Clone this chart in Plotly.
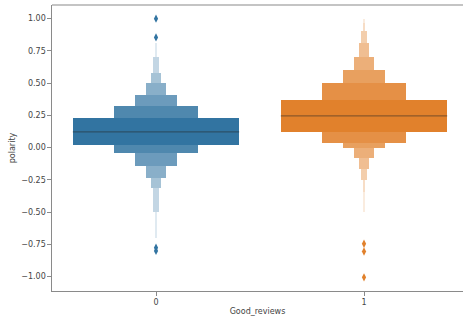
import plotly.graph_objects as go

# ---- data ----
categories = [0, 1]
tick_labels = ["0", "1"]
base_colors = ["#3274a1", "#e1812c"]

# letter-value boxes, innermost first: (lower, upper)
blue_lower = [0.021, -0.043, -0.145, -0.232, -0.315, -0.50, -0.70]
blue_upper = [0.228, 0.323, 0.411, 0.499, 0.577, 0.705, 0.81]
orange_lower = [0.124, 0.039, -0.005, -0.082, -0.168, -0.25, -0.34, -0.50]
orange_upper = [0.372, 0.499, 0.602, 0.705, 0.809, 0.907, 0.97, 1.00]
medians = [0.122, 0.246]
blue_outliers = [1.0, 0.855, -0.775, -0.80]
orange_outliers = [-0.745, -0.805, -1.005]

lowers = [blue_lower, orange_lower]
uppers = [blue_upper, orange_upper]
outliers = [blue_outliers, orange_outliers]

BOX_WIDTH = 0.8


def hex_to_rgb(h):
    h = h.lstrip("#")
    return tuple(int(h[i:i + 2], 16) for i in (0, 2, 4))


def blend(h, t):
    r, g, b = hex_to_rgb(h)
    return "rgb(%d,%d,%d)" % (
        round(r + (255 - r) * t),
        round(g + (255 - g) * t),
        round(b + (255 - b) * t),
    )


fig = go.Figure()

for ci, cat in enumerate(categories):
    lo, up = lowers[ci], uppers[ci]
    k = len(lo)
    # draw outermost (narrow, light) first, innermost on top
    for i in reversed(range(k)):
        t = 0.85 * i / (k - 1)
        fig.add_trace(go.Bar(
            x=[cat], y=[up[i] - lo[i]], base=[lo[i]],
            width=[BOX_WIDTH / (2 ** i)],
            marker=dict(color=blend(base_colors[ci], t), line=dict(width=0)),
            showlegend=False, hoverinfo="skip",
        ))
    # median line
    fig.add_trace(go.Scatter(
        x=[cat - BOX_WIDTH / 2, cat + BOX_WIDTH / 2], y=[medians[ci]] * 2,
        mode="lines", line=dict(color="rgba(38,38,38,0.45)", width=1.2),
        showlegend=False, hoverinfo="skip",
    ))
    # outliers
    fig.add_trace(go.Scatter(
        x=[cat] * len(outliers[ci]), y=outliers[ci], mode="markers",
        marker=dict(symbol="diamond-tall", size=6, color=base_colors[ci],
                    line=dict(width=0)),
        showlegend=False, hoverinfo="skip",
    ))

W, H = 463, 322
ml, mt, mb = 52, 5, 31
plot_w = W - ml
unit_px = 208.0
x_right = -0.5 + plot_w / unit_px

font = dict(family="DejaVu Sans", size=8, color="#444")

fig.update_layout(
    width=W, height=H,
    margin=dict(l=ml, r=0, t=mt, b=mb),
    barmode="overlay", bargap=0,
    plot_bgcolor="white", paper_bgcolor="white",
    font=font,
    xaxis=dict(
        range=[-0.5, x_right], tickvals=categories, ticktext=tick_labels,
        showgrid=False, zeroline=False, showline=True, linecolor="#8a8a8a",
        linewidth=1.2, ticks="outside", ticklen=3.5, tickcolor="#8a8a8a",
        tickfont=font,
        title=dict(text="Good_reviews", font=font, standoff=2),
    ),
    yaxis=dict(
        range=[-1.111, 1.106], tickvals=[-1, -0.75, -0.5, -0.25, 0, 0.25, 0.5, 0.75, 1.0],
        tickformat=".2f",
        showgrid=False, zeroline=False, showline=True, linecolor="#8a8a8a",
        linewidth=1.2, ticks="outside", ticklen=3.5, tickcolor="#8a8a8a",
        tickfont=font,
        title=dict(text="polarity", font=font, standoff=4),
    ),
    shapes=[dict(type="line", xref="paper", yref="paper", x0=0, x1=1, y0=1, y1=1,
                 line=dict(color="#8a8a8a", width=1.2))],
)

fig.write_html("out.html")
